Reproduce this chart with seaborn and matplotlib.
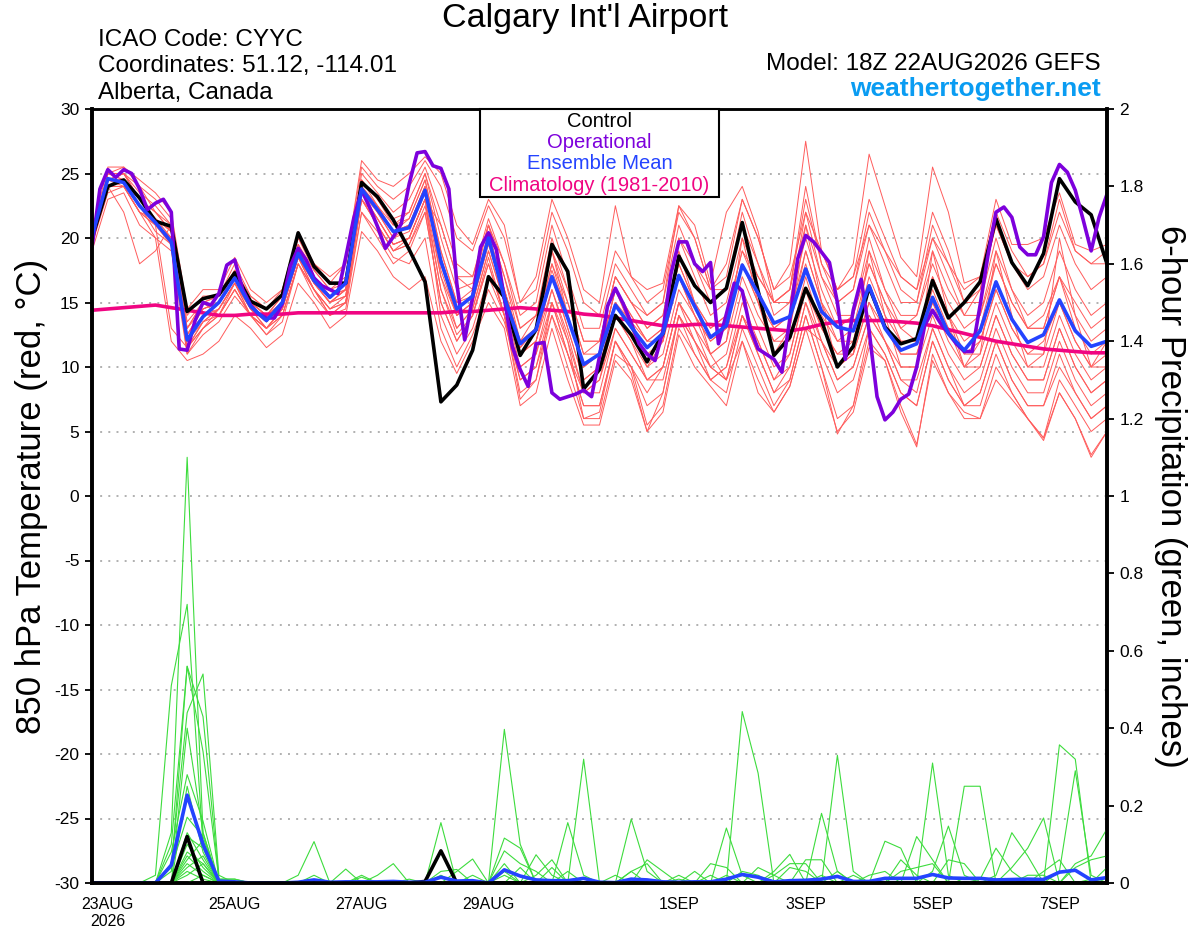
import numpy as np
import pandas as pd
import matplotlib
matplotlib.use('Agg')
import matplotlib.pyplot as plt
from matplotlib.patches import Rectangle
from matplotlib.ticker import FuncFormatter
import seaborn as sns

# 6-hourly ensemble times, 3-hourly operational times
times = pd.date_range('2026-08-22 18:00', periods=65, freq='6h')
op_times = pd.date_range('2026-08-22 18:00', periods=129, freq='3h')

tick_dates = ['2026-08-23', '2026-08-25', '2026-08-27', '2026-08-29',
              '2026-09-01', '2026-09-03', '2026-09-05', '2026-09-07']
tick_labels = ['23AUG\n2026', '25AUG', '27AUG', '29AUG', '1SEP', '3SEP', '5SEP', '7SEP']

# 850 hPa temperature (C)
control_temp = [20.0, 24.0, 24.5, 23.1, 21.3, 20.9, 14.3, 15.3, 15.6, 17.3, 15.1, 14.5, 15.6,
                20.4, 17.8, 16.5, 16.5, 24.3, 23.2, 21.4, 19.1, 16.6, 7.3, 8.6, 11.3, 17.0,
                15.4, 10.9, 12.9, 19.5, 17.4, 8.3, 9.8, 14.0, 12.5, 10.4, 12.6, 18.6, 16.3,
                15.0, 16.1, 21.2, 15.9, 10.9, 12.3, 16.1, 13.6, 10.0, 11.6, 16.2, 13.1, 11.8,
                12.2, 16.7, 13.8, 15.0, 16.6, 21.5, 18.1, 16.3, 18.8, 24.6, 22.8, 21.8, 18.0]

mean_temp = [20.1, 24.6, 24.3, 22.5, 21.2, 19.7, 12.1, 13.9, 15.0, 16.9, 14.7, 13.6, 15.0,
             18.8, 16.7, 15.4, 16.5, 23.8, 22.2, 20.5, 20.8, 23.7, 18.2, 14.5, 15.5, 20.0,
             15.4, 11.8, 12.9, 17.0, 13.8, 10.2, 11.0, 14.8, 13.1, 11.5, 12.6, 17.1, 14.7,
             12.3, 13.2, 17.9, 15.7, 13.4, 13.9, 17.6, 14.3, 13.1, 12.8, 16.3, 13.0, 11.3,
             11.8, 15.4, 12.6, 11.3, 12.8, 16.6, 13.7, 11.9, 12.5, 15.2, 12.8, 11.6, 12.0]

clim_temp = [14.4, 14.5, 14.6, 14.7, 14.8, 14.6, 14.4, 14.2, 14.0, 14.0, 14.1, 14.1, 14.1,
             14.2, 14.2, 14.2, 14.2, 14.2, 14.2, 14.2, 14.2, 14.2, 14.2, 14.3, 14.3, 14.4,
             14.5, 14.6, 14.5, 14.4, 14.3, 14.1, 14.0, 13.8, 13.6, 13.4, 13.2, 13.2, 13.3,
             13.3, 13.2, 13.1, 13.0, 12.9, 12.8, 13.0, 13.3, 13.5, 13.6, 13.6, 13.6, 13.5,
             13.4, 13.2, 12.9, 12.6, 12.3, 12.0, 11.8, 11.6, 11.4, 11.3, 11.2, 11.1, 11.1]

oper_temp = [19.3, 23.8, 25.3, 24.7, 25.3, 25.0, 23.8, 22.2, 22.7, 23.0, 22.0, 11.4, 11.3,
             13.6, 15.0, 14.8, 15.7, 17.9, 18.3, 16.0, 14.8, 14.1, 13.8, 13.8, 14.9, 17.8,
             19.2, 18.3, 16.9, 16.3, 16.0, 15.7, 18.5, 21.5, 23.7, 22.4, 20.9, 19.2, 20.1,
             21.1, 24.2, 26.6, 26.7, 25.6, 25.4, 23.8, 16.5, 12.1, 15.4, 19.3, 20.4, 19.1,
             15.3, 11.6, 9.8, 8.5, 11.8, 11.9, 8.0, 7.5, 7.7, 7.9, 8.2, 7.7, 10.8,
             14.7, 16.1, 14.9, 13.4, 11.8, 11.0, 10.5, 12.8, 17.2, 19.7, 19.7, 18.0, 17.4,
             18.1, 11.8, 14.1, 16.5, 15.9, 13.0, 11.4, 11.0, 10.6, 9.6, 13.7, 18.4, 20.2,
             19.7, 18.9, 18.1, 15.0, 10.6, 14.4, 16.8, 12.8, 7.7, 5.9, 6.5, 7.5, 7.9,
             10.0, 13.2, 14.4, 13.4, 12.6, 11.8, 11.2, 11.2, 14.8, 18.7, 22.0, 22.4, 21.6,
             19.3, 18.7, 18.7, 20.1, 24.3, 25.7, 25.1, 23.7, 21.4, 19.0, 21.6, 23.4]

temp_members = [
    [20.5, 25.5, 25.5, 24.5, 23.5, 22, 14.5, 16, 16, 18.5, 16, 15, 16,
     20, 18, 17, 18, 25.5, 24, 23, 24, 26, 24, 20, 19, 22.5,
     20, 15, 16, 22, 19, 15, 14, 19, 17, 15, 16, 22, 20,
     16, 17, 23, 20, 16, 17, 22, 19, 16, 17, 21, 19, 17,
     16, 20, 18, 16, 17, 22, 19, 17, 18, 23, 19, 18, 19],
    [19, 23, 23.5, 21, 20, 12, 10.5, 11, 12, 14, 13, 11.5, 12.5,
     16.5, 15, 13, 14, 20.5, 19, 17, 16, 17, 12, 9.5, 12, 15,
     13, 7, 8, 13, 9, 5.5, 5.5, 10.5, 9, 5, 6.5, 12.5, 10,
     8.5, 7, 12, 9, 6.5, 8.5, 13, 9, 5, 6.5, 11.5, 10.5, 7,
     4, 10.5, 8, 6.5, 6, 9, 7.5, 6, 4.5, 8, 6, 3.2, 5],
    [20, 24.5, 24.5, 22.5, 21, 20, 12, 14, 15, 17, 14.5, 13.5, 15,
     19, 16.5, 15, 16, 24, 22, 20, 21, 24, 17, 14, 15, 20,
     15, 11, 12, 17, 13, 9, 10, 15, 13, 11, 12, 17, 14,
     12, 13, 18, 15, 13, 14, 18, 14, 12, 12, 16, 13, 11,
     11, 15, 12, 10, 12, 16, 13, 11, 12, 15, 12, 10, 11],
    [20.5, 24, 22, 18, 19, 21, 13, 15, 14, 16.5, 14, 13, 14,
     18, 16, 14, 15, 23, 21, 19, 20, 23, 21, 17, 16, 21,
     17, 12, 14, 19, 16, 12, 12, 17, 15, 13, 14, 20, 17,
     14, 15, 20, 17, 15, 15, 20, 16, 13, 14, 18, 15, 13,
     14, 18, 15, 13, 14, 18, 15, 13, 14, 17, 15, 13, 14],
    [19.5, 24.5, 25, 23, 22, 20.5, 11, 13, 14, 16, 14, 12.5, 13.5,
     18, 16, 14, 15, 22, 20, 18, 19, 22, 15, 12, 14, 18,
     14, 9, 10, 15, 11, 7, 7, 12, 10, 7, 8, 14, 12,
     10, 9, 14, 11, 8, 10, 15, 11, 8, 9, 13, 11, 8,
     7, 12, 9, 7, 8, 12, 9, 7, 7, 10, 8, 6, 7],
    [20, 25, 25, 24, 22, 21, 13.5, 15, 15.5, 17.5, 15.5, 14.5, 15.5,
     20, 17.5, 16, 17, 25, 23.5, 22, 23, 25.5, 22, 18, 17, 21,
     18, 14, 15, 21, 17, 13, 13, 18, 16, 14, 15, 21, 18,
     15, 16, 22, 18, 14, 15, 22, 17, 14, 14, 20, 16, 13,
     12, 17, 14, 11, 11, 15, 12, 10, 10, 14, 11, 9, 10],
    [20, 24.5, 24, 22, 21.5, 20, 12.5, 14, 15, 17, 15, 14, 15,
     19, 17, 15.5, 16, 24, 22.5, 21, 21.5, 24.5, 19, 15, 16, 20,
     16, 12, 13, 18, 15, 11, 12, 17, 15, 13, 14, 20, 18,
     16, 18, 23, 20, 16, 18, 27.5, 19, 16, 18, 26.5, 22.5, 18.5,
     17, 25.5, 22, 16.5, 17, 23, 19.5, 19.5, 20, 23.5, 19.5, 19, 19.5],
    [19.5, 24, 24.5, 22.5, 20.5, 19.5, 11.5, 13, 14.5, 16.5, 14.5, 13, 14.5,
     18.5, 16.5, 15, 15.5, 23.5, 21.5, 19.5, 20, 23, 14, 11, 13, 17,
     14, 8, 9, 14, 10, 6, 6, 11, 10, 8, 10, 15, 13,
     11, 12, 17, 14, 12, 12, 17, 13, 11, 11, 15, 12, 10,
     10, 14, 11, 9, 10, 14, 11, 9, 9, 13, 10, 8, 9],
    [20, 25, 25.5, 24, 23, 21.5, 14, 15.5, 15.5, 18, 15.5, 14.5, 16,
     20.5, 18, 16.5, 18, 26, 24.5, 24, 25, 26.3, 25, 21, 19.5, 23,
     21, 15, 17, 23, 20, 16, 15, 22.5, 17, 16, 16.5, 22.5, 21,
     16.5, 22, 24, 20.5, 15, 16, 24, 18, 15, 16, 22, 19, 16,
     15, 20, 17, 14, 14, 19, 16, 14, 15, 19, 16, 14, 15],
    [19.5, 24, 24, 22, 20, 19, 11, 12.5, 13.5, 15.5, 14, 12.5, 14,
     18, 15.5, 14, 14.5, 22, 20.5, 18.5, 18, 20, 13, 10, 12.5, 16,
     13.5, 9, 10, 14, 11, 8, 8, 13, 11, 9, 9, 14, 12,
     9, 8, 13, 10, 7, 9, 14, 10, 6, 7, 12, 10.5, 6.5,
     3.8, 11, 8, 6, 6, 10, 8, 6, 4.3, 8, 6, 3, 5],
    [20.5, 25, 24.5, 23, 21.5, 20.5, 12.5, 14.5, 15, 17.5, 15, 14, 15.5,
     19.5, 17.5, 16, 16.5, 24.5, 23, 21.5, 22, 25, 20, 16, 16.5, 21,
     17, 13, 14, 20, 16, 12, 12, 17, 15, 14, 15, 22.5, 20,
     16, 16, 21, 18, 15, 16, 21, 17, 15, 16, 21, 18, 15,
     15, 21, 18, 15, 16, 21, 18, 16, 17, 21, 18, 16, 17],
    [19.5, 23.5, 24, 22, 21, 13, 11.5, 13.5, 14, 16, 14, 13, 14.5,
     18.5, 16, 14.5, 15, 23, 21, 19, 19.5, 22.5, 16, 12.5, 14, 18.5,
     14, 7.5, 9, 15, 12, 6, 6.5, 12, 10, 5.5, 7, 13, 11,
     9, 10, 15, 12, 9, 11, 16, 12, 9, 10, 14, 12, 9,
     9, 13, 10, 8, 9, 13, 10, 8, 8, 12, 9, 7, 8],
    [20, 24.5, 25, 23.5, 22.5, 21, 13, 15, 15.5, 17.5, 15, 14, 15,
     19.5, 17, 15.5, 16, 24.5, 22.5, 20.5, 21.5, 24.5, 19, 15, 15.5, 20.5,
     16, 11.5, 13, 19, 14, 10, 11, 16, 13, 10, 12, 19, 15,
     11, 12, 20, 15, 11, 13, 21, 15, 10, 11, 19, 14, 10,
     10, 19, 14, 10, 11, 19, 14, 10, 11, 20, 14, 10, 12],
    [20, 24, 24.5, 22.5, 21, 20, 12, 14, 14.5, 16.5, 14.5, 13.5, 15,
     18.5, 16.5, 15, 16, 23.5, 22, 20, 20.5, 23.5, 18, 14, 15, 19.5,
     15.5, 11, 12, 17, 13, 9, 10, 14, 12, 10, 11, 16, 14,
     11, 9, 12, 8, 6.5, 8.5, 13, 12, 10, 11, 15, 13, 11,
     11, 15, 13, 11, 12, 16, 13, 11, 11, 15, 12, 10, 10],
    [20, 25, 25, 23, 22, 20.5, 12.5, 14.5, 15, 17, 14.5, 13.5, 15,
     19, 16.5, 15, 16, 24, 22, 20.5, 21, 24, 18.5, 14.5, 15.5, 20,
     15, 11.5, 13, 17.5, 14, 10, 11, 15, 13.5, 12, 13, 18, 15,
     13, 14, 19, 17, 15, 16, 23, 18, 16, 17, 23, 20, 17,
     16, 22, 19, 15, 15, 20, 16, 13, 13, 17, 13, 11, 12],
    [19.5, 24, 24, 22, 21, 19.5, 11.5, 13, 14, 16, 14, 13, 14,
     18, 16, 14.5, 15, 23, 21, 19, 19.5, 22, 15, 12, 14, 18,
     14, 10, 11, 15, 11, 7, 7, 12, 9.5, 5, 8, 14, 11,
     9, 10, 14, 12, 9, 10, 15, 12, 9, 10, 14, 12, 9,
     8, 13, 10, 7, 8, 12, 9, 7, 7, 11, 8, 6, 7],
    [20, 24.5, 25, 23, 21.5, 20.5, 13, 14.5, 15, 17, 15, 14, 15.5,
     19.5, 17, 15.5, 16.5, 24.5, 23, 21, 22, 25, 21, 17, 17, 21.5,
     18, 13, 14, 19, 15, 11, 11, 16, 14, 12, 13, 18, 15,
     13, 14, 19, 16, 13, 14, 19, 15, 13, 14, 19, 16, 14,
     14, 19, 16, 14, 16, 21, 18, 17, 18, 22, 19, 18, 18],
    [19.5, 24.5, 24.5, 22.5, 21, 19.5, 11.5, 13.5, 14.5, 16.5, 14, 13, 14.5,
     18.5, 16, 14.5, 15.5, 23, 21.5, 19.5, 20, 23, 17, 13, 14.5, 19,
     15, 10, 11, 16, 12, 8, 9, 14, 12, 9, 10, 15, 13,
     10, 11, 16, 13, 10, 11, 16, 13, 11, 12, 17, 14, 12,
     12, 16, 13, 10, 10, 14, 11, 9, 9, 13, 10, 8, 9],
    [20, 25, 24.5, 22.5, 21.5, 20, 12, 14, 15, 17, 15, 14, 15,
     19, 17, 15.5, 16.5, 24, 22.5, 20.5, 21, 24, 17.5, 14, 15, 20,
     16, 12, 13, 18, 14, 10, 11, 16, 14, 12, 12, 17, 14,
     12, 13, 18, 15, 12, 13, 19, 15, 12, 13, 18, 15, 12,
     12, 17, 14, 12, 13, 18, 15, 13, 13, 17, 14, 12, 13],
    [19.5, 24, 24.5, 22.5, 21, 20, 12, 13.5, 14.5, 16.5, 14.5, 13, 14.5,
     18.5, 16.5, 15, 15.5, 23.5, 21.5, 19.5, 20, 23, 16, 13, 14.5, 19,
     15, 11, 12, 16, 12.5, 8, 9, 13, 11, 9, 10, 15, 12,
     10, 9, 14, 11, 8, 9, 14, 10, 4.8, 7, 13, 11, 8,
     7, 12, 9, 7, 7, 11, 8, 6, 4.5, 9, 7, 5, 6],
]

# 6-hour precipitation (inches)
control_precip = [0, 0, 0, 0, 0, 0, .12, 0, 0, 0, 0, 0, 0,
                  0, 0, 0, 0, 0, 0, 0, 0, .004, .083, 0, 0, 0,
                  0, 0, 0, 0, 0, 0, 0, 0, 0, 0, 0, 0, 0,
                  0, 0, 0, 0, 0, 0, 0, 0, 0, 0, 0, 0, 0,
                  0, 0, 0, 0, 0, 0, 0, 0, 0, 0, 0, 0, 0]

mean_precip = [0, 0, 0, 0, 0, .046, .227, .10, .005, .003, 0, 0, 0,
               .002, .008, .002, .003, .003, .003, .004, .002, .002, .015, .005, .006, 0,
               .034, .018, .008, .006, .006, .012, .002, .001, .01, .008, .003, .002, .003,
               .003, .01, .022, .015, .003, .006, .007, .01, .017, .004, .004, .012, .012,
               .012, .022, .013, .012, .012, .008, .009, .01, .009, .028, .033, .008, .014]

precip_members = [
    [0, 0, 0, 0, 0, .13, 1.1, .13, 0, 0, 0, 0, 0, 0, 0, 0, 0, 0, 0, 0, 0, 0, .156, 0, 0,
     0, 0, 0, 0, 0, 0, 0, 0, 0, 0, 0, 0, 0, 0, 0, 0, .443, .284, 0, 0,
     0, 0, 0, 0, 0, 0, 0, 0, 0, 0, 0, 0, 0, 0, .02, .02, 0, 0, 0, 0],
    [0, 0, 0, 0, .02, .51, .72, .10, 0, 0, 0, 0, 0, 0, 0, 0, 0, 0, 0, 0, 0, 0, .02, 0, 0,
     0, 0, 0, 0, 0, 0, 0, 0, 0, .165, .03, 0, 0, 0, 0, 0, 0, 0, 0, .04,
     .03, 0, 0, 0, 0, 0, 0, 0, 0, 0, 0, 0, 0, 0, 0, .03, .06, 0, .01, 0],
    [0, 0, 0, 0, 0, .10, .56, .34, .01, .01, 0, 0, 0, 0, 0, 0, 0, 0, 0, 0, 0, 0, 0, 0, 0,
     0, 0, 0, 0, 0, 0, 0, 0, 0, .03, .05, 0, 0, 0, 0, 0, 0, 0, 0, 0,
     .06, .06, 0, 0, 0, 0, 0, 0, 0, 0, 0, 0, 0, 0, 0, 0, .357, .32, 0, 0],
    [0, 0, 0, 0, 0, .05, .44, .54, .02, 0, 0, 0, 0, 0, 0, 0, 0, 0, 0, 0, 0, 0, 0, 0, 0,
     0, .397, .10, 0, 0, 0, 0, 0, 0, 0, 0, 0, 0, 0, 0, 0, 0, 0, 0, 0,
     0, .02, 0, 0, 0, 0, 0, 0, 0, 0, 0, 0, 0, 0, 0, 0, .03, .29, .02, 0],
    [0, 0, 0, 0, 0, .03, .56, .43, .01, .01, 0, 0, 0, 0, 0, 0, 0, 0, 0, 0, 0, 0, 0, 0, 0,
     0, .116, .09, 0, 0, 0, 0, 0, 0, 0, 0, 0, 0, 0, 0, 0, 0, 0, 0, 0,
     0, .18, .03, 0, 0, 0, 0, 0, 0, 0, 0, 0, 0, 0, 0, 0, 0, .05, .07, .14],
    [0, 0, 0, 0, 0, 0, .40, .13, 0, 0, 0, 0, 0, .02, .107, 0, 0, 0, 0, 0, 0, 0, 0, 0, 0,
     0, .083, .05, .03, 0, 0, 0, 0, 0, 0, 0, 0, 0, 0, 0, 0, 0, 0, 0, 0,
     0, 0, .03, 0, 0, 0, 0, 0, 0, 0, 0, 0, 0, 0, 0, 0, 0, .04, .06, .07],
    [0, 0, 0, 0, 0, .08, .28, .16, 0, 0, 0, 0, 0, 0, 0, 0, 0, 0, 0, 0, 0, 0, .03, .035, 0,
     0, 0, 0, 0, 0, 0, 0, 0, 0, 0, 0, 0, 0, 0, 0, 0, 0, 0, 0, 0,
     0, 0, .33, .03, 0, 0, 0, 0, 0, 0, 0, 0, 0, 0, 0, 0, 0, 0, 0, 0],
    [0, 0, 0, 0, 0, 0, .25, .08, 0, 0, 0, 0, 0, 0, 0, 0, 0, 0, 0, 0, 0, 0, 0, .03, .062,
     0, 0, 0, 0, 0, 0, 0, 0, 0, 0, 0, 0, 0, 0, 0, 0, 0, 0, 0, 0,
     0, 0, 0, .02, 0, 0, 0, 0, 0, 0, 0, 0, 0, 0, 0, 0, 0, 0, 0, .04],
    [0, 0, 0, 0, 0, .04, .17, .12, 0, 0, 0, 0, 0, 0, .02, 0, 0, 0, 0, 0, 0, 0, 0, 0, .02,
     0, 0, 0, 0, 0, 0, 0, 0, 0, .03, 0, 0, 0, 0, 0, 0, 0, 0, 0, 0,
     0, 0, 0, 0, .02, .03, 0, 0, 0, 0, 0, 0, 0, 0, 0, 0, 0, 0, 0, 0],
    [0, 0, 0, 0, 0, 0, .13, .06, 0, 0, 0, 0, 0, 0, 0, 0, .036, 0, 0, 0, 0, 0, 0, 0, 0,
     0, .05, 0, 0, 0, 0, 0, 0, 0, 0, 0, 0, 0, 0, 0, 0, 0, 0, 0, 0,
     0, 0, 0, 0, 0, .108, .09, 0, 0, 0, 0, 0, 0, 0, 0, 0, 0, 0, 0, 0],
    [0, 0, 0, 0, 0, 0, .12, .09, 0, 0, 0, 0, 0, 0, 0, 0, 0, .02, 0, 0, 0, 0, 0, 0, 0,
     0, .03, 0, 0, 0, 0, 0, 0, 0, 0, .06, .03, 0, 0, 0, 0, 0, 0, 0, 0,
     0, 0, 0, 0, 0, 0, .03, .04, .05, 0, 0, 0, 0, 0, 0, 0, 0, 0, 0, 0],
    [0, 0, 0, 0, 0, 0, .10, .04, 0, 0, 0, 0, 0, 0, 0, 0, 0, .015, 0, 0, 0, 0, 0, 0, 0,
     0, .02, 0, 0, 0, 0, 0, 0, 0, 0, 0, 0, .02, 0, .05, .04, 0, 0, 0, 0,
     0, 0, 0, 0, 0, 0, .06, .02, 0, 0, 0, 0, 0, 0, 0, 0, 0, 0, 0, 0],
    [0, 0, 0, 0, 0, 0, .08, .05, 0, 0, 0, 0, 0, 0, 0, 0, 0, 0, .02, .05, 0, 0, 0, 0, 0,
     0, 0, .04, 0, 0, 0, 0, 0, 0, 0, 0, 0, .01, 0, 0, .02, 0, 0, 0, 0,
     0, 0, 0, 0, 0, 0, 0, .12, .06, 0, 0, 0, 0, 0, 0, 0, 0, 0, 0, 0],
    [0, 0, 0, 0, 0, 0, .07, .03, 0, 0, 0, 0, 0, 0, 0, 0, 0, 0, 0, 0, .01, 0, 0, 0, 0,
     0, 0, 0, .073, .02, 0, 0, 0, 0, 0, 0, 0, 0, .03, 0, 0, 0, 0, 0, 0,
     0, 0, 0, 0, 0, 0, 0, 0, .31, .02, 0, 0, 0, 0, 0, 0, 0, 0, 0, 0],
    [0, 0, 0, 0, 0, 0, .06, .11, 0, 0, 0, 0, 0, 0, 0, 0, 0, 0, 0, 0, 0, 0, 0, 0, 0,
     0, 0, 0, .02, .06, 0, 0, 0, 0, 0, 0, 0, 0, 0, .02, 0, 0, 0, 0, 0,
     0, 0, 0, 0, 0, 0, 0, 0, .03, .147, .02, 0, 0, 0, 0, 0, 0, 0, 0, 0],
    [0, 0, 0, 0, 0, 0, .05, .02, 0, 0, 0, 0, 0, 0, 0, 0, 0, 0, 0, 0, 0, 0, 0, 0, 0,
     0, 0, 0, 0, .04, 0, 0, 0, 0, 0, 0, 0, 0, 0, 0, .142, .02, 0, 0, 0,
     0, 0, 0, 0, 0, 0, 0, 0, 0, .06, .05, 0, 0, 0, 0, 0, 0, 0, 0, 0],
    [0, 0, 0, 0, 0, 0, .04, .07, 0, 0, 0, 0, 0, 0, 0, 0, 0, 0, 0, 0, 0, 0, 0, 0, 0,
     0, 0, 0, 0, 0, .156, .02, 0, 0, 0, 0, 0, 0, 0, 0, 0, .03, .02, 0, 0,
     0, 0, 0, 0, 0, 0, 0, 0, 0, 0, .25, .25, 0, 0, 0, 0, 0, 0, 0, 0],
    [0, 0, 0, 0, 0, 0, .03, .01, 0, 0, 0, 0, 0, 0, 0, 0, 0, 0, 0, 0, 0, 0, 0, 0, 0,
     0, 0, 0, 0, 0, .03, 0, 0, 0, 0, 0, 0, 0, 0, 0, 0, 0, .04, .02, 0,
     0, 0, 0, 0, 0, 0, 0, 0, 0, 0, 0, .01, .09, .03, 0, 0, 0, 0, 0, 0],
    [0, 0, 0, 0, 0, 0, .02, .05, 0, 0, 0, 0, 0, 0, 0, 0, 0, 0, 0, 0, 0, 0, 0, 0, 0,
     0, 0, 0, 0, 0, 0, .32, 0, 0, 0, 0, 0, 0, 0, 0, 0, 0, 0, .03, .074,
     0, 0, 0, 0, 0, 0, 0, 0, 0, 0, 0, 0, .02, .13, .07, 0, 0, 0, 0, 0],
    [0, 0, 0, 0, 0, 0, 0, .02, 0, 0, 0, 0, 0, 0, 0, 0, 0, 0, 0, 0, 0, 0, 0, 0, 0,
     0, 0, 0, 0, 0, 0, 0, 0, .02, 0, 0, 0, 0, 0, 0, 0, 0, 0, .02, .05,
     .05, 0, 0, 0, 0, 0, 0, 0, 0, 0, 0, 0, 0, .04, .09, .168, 0, 0, 0, 0],
]

for m in temp_members + precip_members:
    assert len(m) == len(times), len(m)

RED = '#ff5c5c'
GREEN = '#3ddc3d'
PURPLE = '#7d00dc'
BLUE = '#2443ff'
MAGENTA = '#f00582'

sns.set_style('white')
plt.rcParams['font.family'] = ['Liberation Sans', 'DejaVu Sans']
plt.rcParams['axes.unicode_minus'] = False
plt.rcParams['text.color'] = 'black'
plt.rcParams['xtick.color'] = 'black'
plt.rcParams['ytick.color'] = 'black'
plt.rcParams['axes.labelcolor'] = 'black'

fig = plt.figure(figsize=(12, 9.27), dpi=100)
ax = fig.add_axes([92 / 1200, 44 / 927, 1015 / 1200, 774 / 927])

# ensemble temperature spaghetti
temp_df = pd.concat([pd.DataFrame({'time': times, 'temp': m, 'member': k})
                     for k, m in enumerate(temp_members)], ignore_index=True)
sns.lineplot(data=temp_df, x='time', y='temp', units='member', estimator=None,
             color=RED, linewidth=0.7, ax=ax, legend=False)

sns.lineplot(x=times, y=clim_temp, color=MAGENTA, linewidth=2.6, ax=ax)
sns.lineplot(x=times, y=control_temp, color='black', linewidth=2.6, ax=ax)
sns.lineplot(x=op_times, y=oper_temp, color=PURPLE, linewidth=2.6, ax=ax)
sns.lineplot(x=times, y=mean_temp, color=BLUE, linewidth=2.6, ax=ax)

ax.set_xlim(times[0], times[-1])
ax.set_ylim(-30, 30)
ax.set_yticks(np.arange(-30, 31, 5))
ax.set_xticks(pd.to_datetime(tick_dates))
ax.set_xticklabels(tick_labels)
ax.grid(axis='y', color='#b0b0b0', linewidth=1.4, linestyle=(0, (1, 3.2)))
ax.grid(axis='x', visible=False)
ax.set_xlabel('')
ax.set_ylabel('')
ax.tick_params(axis='y', direction='out', length=5, width=1.3, labelsize=12.5, pad=4)
ax.tick_params(axis='x', direction='out', length=5, width=1.3, labelsize=11.5, pad=5)

# precipitation on the right-hand axis
ax2 = ax.twinx()
precip_df = pd.concat([pd.DataFrame({'time': times, 'precip': m, 'member': k})
                       for k, m in enumerate(precip_members)], ignore_index=True)
sns.lineplot(data=precip_df, x='time', y='precip', units='member', estimator=None,
             color=GREEN, linewidth=0.8, ax=ax2, legend=False)
sns.lineplot(x=times, y=control_precip, color='black', linewidth=2.6, ax=ax2)
sns.lineplot(x=times, y=mean_precip, color=BLUE, linewidth=2.6, ax=ax2)
ax2.set_ylim(0, 2)
ax2.set_xlim(times[0], times[-1])
ax2.set_yticks(np.arange(0, 2.01, 0.2))
ax2.yaxis.set_major_formatter(FuncFormatter(lambda v, p: '%g' % round(v, 1)))
ax2.set_ylabel('')
ax2.set_xlabel('')
ax2.grid(False)
ax2.tick_params(axis='y', direction='out', length=5, width=1.3, labelsize=12.5, pad=4)

for a in (ax, ax2):
    for side in ('left', 'right', 'bottom'):
        a.spines[side].set_linewidth(2.6)
        a.spines[side].set_color('black')
    a.spines['top'].set_linewidth(1.8)
    a.spines['top'].set_color('black')

# legend box
ax2.add_patch(Rectangle((0.382, 0.886), 0.236, 0.114, transform=ax2.transAxes,
                        facecolor='white', edgecolor='black', linewidth=1.5,
                        zorder=20, clip_on=False))
for yy, txt, col in [(0.9835, 'Control', 'black'), (0.9565, 'Operational', PURPLE),
                     (0.9295, 'Ensemble Mean', BLUE),
                     (0.9015, 'Climatology (1981-2010)', MAGENTA)]:
    ax2.text(0.5, yy, txt, color=col, fontsize=14.5, ha='center', va='center',
             transform=ax2.transAxes, zorder=21)

# header texts
fig.text(585 / 1200, 1 - 18 / 927, "Calgary Int'l Airport", ha='center', va='center', fontsize=24.5)
fig.text(98 / 1200, 1 - 40 / 927, 'ICAO Code: CYYC', ha='left', va='center', fontsize=17.5)
fig.text(98 / 1200, 1 - 66 / 927, 'Coordinates: 51.12, -114.01', ha='left', va='center', fontsize=17.5)
fig.text(98 / 1200, 1 - 93 / 927, 'Alberta, Canada', ha='left', va='center', fontsize=17.5)
fig.text(1101 / 1200, 1 - 64 / 927, 'Model: 18Z 22AUG2026 GEFS', ha='right', va='center', fontsize=17.5)
fig.text(1101 / 1200, 1 - 89 / 927, 'weathertogether.net', ha='right', va='center',
         fontsize=19, fontweight='bold', color='#0a9cf2')

fig.text(32 / 1200, 1 - 496 / 927, '850 hPa Temperature (red, °C)', rotation=90,
         ha='center', va='center', fontsize=25)
fig.text(1170 / 1200, 1 - 496 / 927, '6-hour Precipitation (green, inches)', rotation=270,
         ha='center', va='center', fontsize=25)

fig.savefig('out.png', dpi=100)
